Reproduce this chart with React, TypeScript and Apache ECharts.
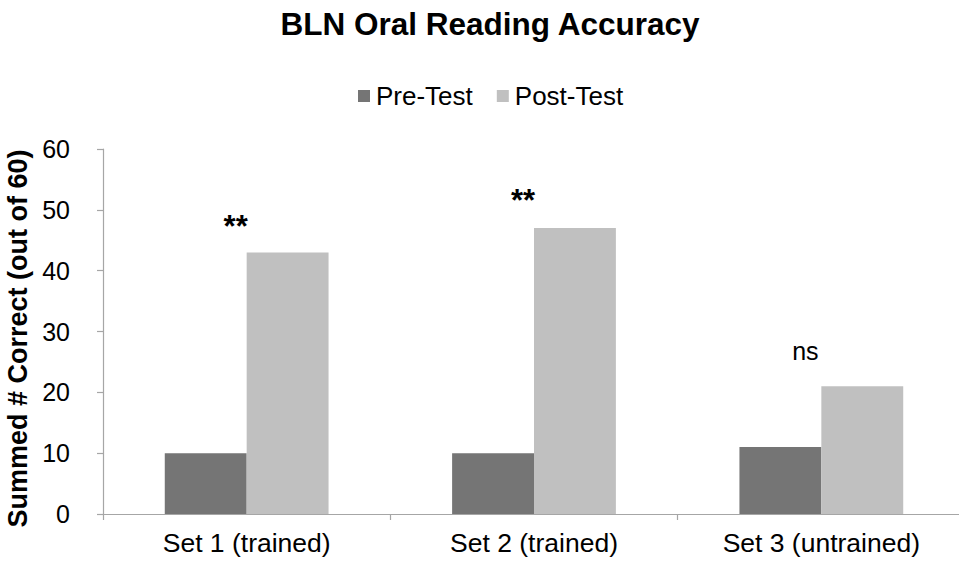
import React, { useEffect, useRef } from "react";
import * as echarts from "echarts";

const categories = ["Set 1 (trained)", "Set 2 (trained)", "Set 3 (untrained)"];
const preTest = [10, 10, 11];
const postTest = [43, 47, 21];
const annotationLabels = ["**", "**", "ns"];
const annotationValues = [47.6, 51.9, 26.8];
const yTicks = { min: 0, max: 60, interval: 10 };

const FONT = "'Liberation Sans', Arial, Helvetica, sans-serif";

export default function App() {
  const ref = useRef<HTMLDivElement>(null);
  useEffect(() => {
    if (!ref.current) return;
    const chart = echarts.init(ref.current, null, { renderer: "svg" });
    chart.setOption({
      animation: false,
      backgroundColor: "#ffffff",
      title: {
        text: "BLN Oral Reading Accuracy",
        left: 485,
        textAlign: "center",
        top: 3,
        textStyle: { fontFamily: FONT, fontSize: 31.5, fontWeight: "bold", color: "#000" },
      },
      legend: {
        left: 353,
        top: 78,
        itemWidth: 12,
        itemHeight: 12,
        itemGap: 24,
        icon: "rect",
        data: ["Pre-Test", "Post-Test"],
        textStyle: { fontFamily: FONT, fontSize: 26, color: "#000", padding: [0, 0, 0, 1] },
      },
      grid: {
        left: 103,
        top: 149,
        height: 365,
        width: 862,
        containLabel: false,
        outerBoundsMode: "none",
      },
      xAxis: {
        type: "category",
        data: categories,
        axisLine: { lineStyle: { color: "#a6a6a6", width: 1.2 } },
        axisTick: { show: true, length: 6, lineStyle: { color: "#a6a6a6", width: 1.2 } },
        axisLabel: { fontFamily: FONT, fontSize: 26.5, color: "#000", margin: 15 },
      },
      yAxis: {
        type: "value",
        min: yTicks.min,
        max: yTicks.max,
        interval: yTicks.interval,
        name: "Summed # Correct (out of 60)",
        nameLocation: "middle",
        nameGap: 70,
        nameTextStyle: {
          fontFamily: FONT,
          fontSize: 27,
          fontWeight: "bold",
          color: "#000",
          padding: [0, 14, 0, 0],
        },
        axisLine: { show: true, lineStyle: { color: "#a6a6a6", width: 1.2 } },
        axisTick: { show: true, length: 6, lineStyle: { color: "#a6a6a6", width: 1.2 } },
        splitLine: { show: false },
        axisLabel: { fontFamily: FONT, fontSize: 25, color: "#000", margin: 33 },
      },
      series: [
        {
          name: "Pre-Test",
          type: "bar",
          data: preTest,
          itemStyle: { color: "#757575" },
          barGap: "0%",
          barCategoryGap: "43%",
        },
        {
          name: "Post-Test",
          type: "bar",
          data: postTest,
          itemStyle: { color: "#c0c0c0" },
          barGap: "0%",
          barCategoryGap: "43%",
        },
        {
          name: "annotations",
          type: "scatter",
          symbolSize: 0,
          silent: true,
          itemStyle: { color: "#000", opacity: 0 },
          data: annotationValues.map((v, i) => ({
            value: [categories[i], v],
            label: {
              show: true,
              formatter: annotationLabels[i],
              position: "inside",
              offset: [i === 2 ? -16 : -11, annotationLabels[i] === "**" ? 2 : 0],
              fontFamily: FONT,
              fontSize: annotationLabels[i] === "**" ? 31 : 25,
              fontWeight: annotationLabels[i] === "**" ? "bold" : "normal",
              color: "#000",
              opacity: 1,
              textBorderWidth: 0,
              textBorderColor: "transparent",
            },
          })),
        },
      ],
    });
    return () => chart.dispose();
  }, []);
  return <div ref={ref} style={{ width: 959, height: 568, position: "absolute", left: 0, top: 0 }} />;
}
